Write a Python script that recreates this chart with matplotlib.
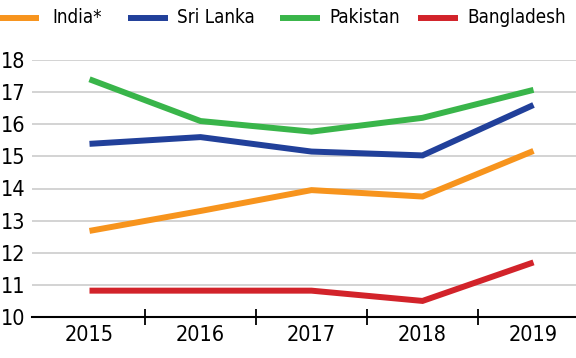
import matplotlib
matplotlib.use("Agg")
import matplotlib.pyplot as plt
from matplotlib.ticker import FixedLocator
from matplotlib.lines import Line2D

plt.rcParams['font.family'] = ['DejaVu Sans']
plt.rcParams['font.stretch'] = 'condensed'

years = ['2015', '2016', '2017', '2018', '2019']
india = [12.68, 13.3, 13.95, 13.75, 15.17]
sri_lanka = [15.39, 15.6, 15.15, 15.03, 16.6]
pakistan = [17.4, 16.1, 15.77, 16.2, 17.07]
bangladesh = [10.82, 10.82, 10.82, 10.5, 11.7]

series = [('India*', india, '#F7941D'),
          ('Sri Lanka', sri_lanka, '#21409A'),
          ('Pakistan', pakistan, '#39B54A'),
          ('Bangladesh', bangladesh, '#D2232A')]

W, H = 576, 358
fig = plt.figure(figsize=(W/100, H/100), dpi=100)
ax = fig.add_axes([32/W, 1-317/H, 557/W, 257/H])

x = list(range(len(years)))
for name, vals, c in series:
    ax.plot(x, vals, color=c, lw=4.3, solid_joinstyle='miter', solid_capstyle='butt', label=name, clip_on=False)

ax.set_xlim(-0.5 - 2/111, 4.5)
ax.set_ylim(10, 18)
ax.set_yticks(range(10, 19))
ax.yaxis.grid(True, color='#CCCCCC', lw=1.2)
ax.set_axisbelow(True)
for s in ['top', 'right', 'left']:
    ax.spines[s].set_visible(False)
ax.spines['bottom'].set_color('black')
ax.spines['bottom'].set_linewidth(1.5)
ax.set_xticks(x)
ax.set_xticklabels(years)
ax.tick_params(axis='x', which='major', length=0, labelsize=15.5, pad=6)
ax.xaxis.set_minor_locator(FixedLocator([0.5, 1.5, 2.5, 3.5]))
ax.tick_params(axis='x', which='minor', direction='inout', length=11, width=1.3, color='black')
ax.tick_params(axis='y', length=0, labelsize=15.5, pad=0)
for lab in ax.get_yticklabels():
    lab.set_horizontalalignment('left')
    lab.set_x(-31/557)

# manual legend
leg_items = [(0, 39, 52), (128, 168, 177), (280, 320, 329), (418, 458, 467)]
ly = 1 - 17.5/H
for (name, vals, c), (x0, x1, tx) in zip(series, leg_items):
    fig.add_artist(Line2D([x0/W, x1/W], [ly, ly], color=c, lw=4.3, solid_capstyle='butt',
                          transform=fig.transFigure))
    fig.text(tx/W, ly, name, fontsize=13.5, va='center', ha='left')

fig.savefig('out.png', dpi=100)
